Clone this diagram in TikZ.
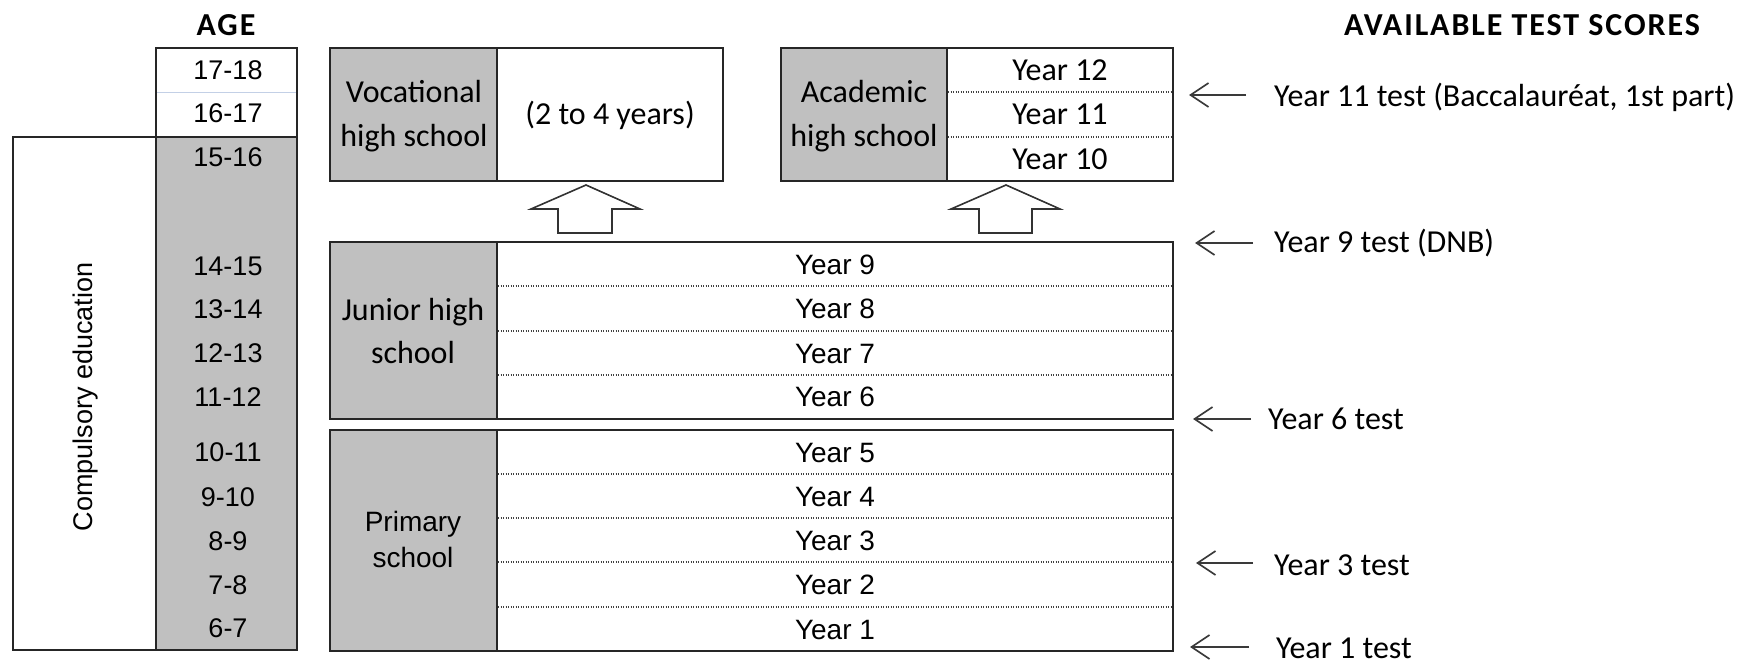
\documentclass[tikz,border=0pt]{standalone}
\usepackage{fontspec}
\usetikzlibrary{arrows.meta}
\setmainfont{Carlito}
\newfontfamily\calfont{Carlito}
\newfontfamily\headfont[LetterSpace=6]{Carlito}
\newfontfamily\arfont{Liberation Sans}
\definecolor{cellgray}{HTML}{C0C0C0}
\definecolor{sepblue}{HTML}{C3D0E6}
\definecolor{inkgray}{HTML}{3A3A3A}

\tikzset{
  frame/.style={draw=black!85, line width=1.8pt, line join=miter},
  rowsep/.style={draw=black!75, line width=1.1pt, dash pattern=on 1.1pt off 1.4pt},
  cal/.style={font=\calfont\fontsize{32}{44}\selectfont, inner sep=0pt,
              text height=20.6pt, text depth=0pt},
  ari/.style={font=\arfont\fontsize{27}{37}\selectfont, inner sep=0pt,
              text height=19.3pt, text depth=0pt},
  arib/.style={font=\arfont\fontsize{28}{37}\selectfont, inner sep=0pt,
              text height=20pt, text depth=0pt},
  heading/.style={font=\headfont\bfseries\fontsize{32}{38}\selectfont, inner sep=0pt,
              text height=20.6pt, text depth=0pt},
  testlbl/.style={cal, anchor=west},
  uparrow/.style={draw=black!80, line width=1.6pt, fill=white, line join=miter},
  testarrow/.style={draw=inkgray, line width=1.7pt,
              -{Straight Barb[length=18pt,width=24pt,line width=1.7pt]}},
}

\begin{document}
\begin{tikzpicture}[x=1pt, y=-1pt]
\useasboundingbox (0,0) rectangle (1758,664);

% ---- headings ----
\node[heading] (agehead) at (226,25) {AGE};
\node[heading] (testhead) at (1522,25) {AVAILABLE TEST SCORES};

% ---- compulsory education bracket and age column ----
\draw[frame] (13,137) rectangle (156,650);
\node[ari, rotate=90] (compulsory) at (83,397) {Compulsory education};

\draw[frame, fill=white] (156,48) rectangle (297,137);
\draw[sepblue, line width=1pt] (157,92) -- (296,92);
\draw[frame, fill=cellgray] (156,137) rectangle (297,650);

\foreach \lbl/\yy [count=\i] in {17-18/70, 16-17/113, 15-16/157, 14-15/266, 13-14/309,
    12-13/353, 11-12/397, 10-11/452, 9-10/497, 8-9/541, 7-8/585, 6-7/628}
  \node[ari] (age\i) at (228,\yy) {\lbl};

% ---- vocational high school ----
\draw[frame, fill=cellgray] (330,48) rectangle (497,181);
\draw[frame, fill=white] (497,48) rectangle (723,181);
\node[cal] (voc1) at (414,92) {Vocational};
\node[cal] (voc2) at (414,136) {high school};
\node[cal] (vocyears) at (610,114) {(2 to 4 years)};

% ---- academic high school ----
\draw[frame, fill=cellgray] (781,48) rectangle (947,181);
\draw[frame, fill=white] (947,48) rectangle (1173,181);
\draw[rowsep] (948,92) -- (1172,92);
\draw[rowsep] (948,137) -- (1172,137);
\node[cal] (acad1) at (864,92) {Academic};
\node[cal] (acad2) at (864,136) {high school};
\node[cal] (y12) at (1060,70) {Year 12};
\node[cal] (y11) at (1060,114) {Year 11};
\node[cal] (y10) at (1060,159) {Year 10};

% ---- transition arrows ----
\draw[uparrow] (586,185) -- (640,209) -- (612,209) -- (612,233) -- (558,233)
  -- (558,209) -- (531,209) -- cycle;
\draw[uparrow] (1006,185) -- (1060,209) -- (1032,209) -- (1032,233) -- (979,233)
  -- (979,209) -- (951,209) -- cycle;

% ---- junior high school ----
\draw[frame, fill=cellgray] (330,242) rectangle (497,419);
\draw[frame, fill=white] (497,242) rectangle (1173,419);
\foreach \yy in {286,331,375}
  \draw[rowsep] (498,\yy) -- (1172,\yy);
\node[cal] (jun1) at (413,310) {Junior high};
\node[cal] (jun2) at (413,353) {school};
\node[arib] (y9) at (835,264) {Year 9};
\node[arib] (y8) at (835,308) {Year 8};
\node[arib] (y7) at (835,353) {Year 7};
\node[arib] (y6) at (835,396) {Year 6};

% ---- primary school ----
\draw[frame, fill=cellgray] (330,430) rectangle (497,651);
\draw[frame, fill=white] (497,430) rectangle (1173,651);
\foreach \yy in {474,518,562,607}
  \draw[rowsep] (498,\yy) -- (1172,\yy);
\node[arib] (prim1) at (413,521) {Primary};
\node[arib] (prim2) at (413,557) {school};
\node[arib] (y5) at (835,452) {Year 5};
\node[arib] (y4) at (835,496) {Year 4};
\node[arib] (y3) at (835,540) {Year 3};
\node[arib] (y2) at (835,584) {Year 2};
\node[arib] (y1) at (835,629) {Year 1};

% ---- available test scores ----
\node[testlbl] (t11) at (1274,96) {Year 11 test (Baccalauréat, 1st part)};
\node[testlbl] (t9)  at (1274,242) {Year 9 test (DNB)};
\node[testlbl] (t6)  at (1268,419) {Year 6 test};
\node[testlbl] (t3)  at (1274,565) {Year 3 test};
\node[testlbl] (t1)  at (1276,648) {Year 1 test};

\coordinate (a11s) at (1246,95);  \coordinate (a11e) at (1189,95);
\coordinate (a9s)  at (1253,243); \coordinate (a9e)  at (1195,243);
\coordinate (a6s)  at (1251,419); \coordinate (a6e)  at (1193,419);
\coordinate (a3s)  at (1253,563); \coordinate (a3e)  at (1196,563);
\coordinate (a1s)  at (1249,647); \coordinate (a1e)  at (1190,647);
\foreach \k in {11,9,6,3,1}
  \draw[testarrow] (a\k s) -- (a\k e);
\end{tikzpicture}
\end{document}
